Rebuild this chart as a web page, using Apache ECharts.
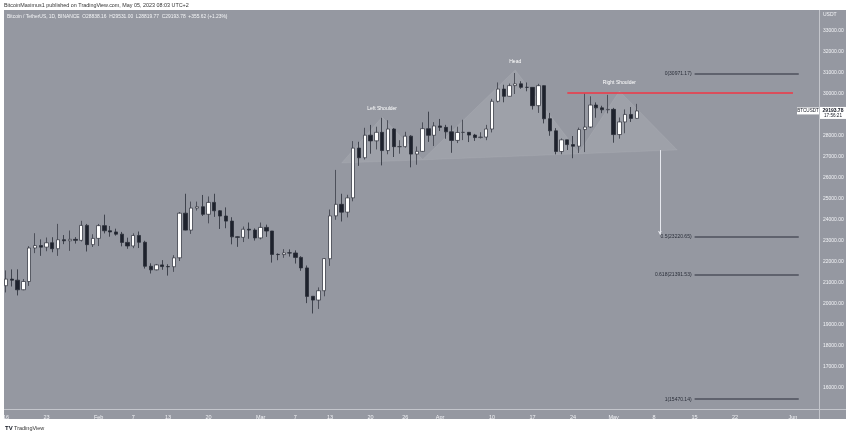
<!DOCTYPE html>
<html><head><meta charset="utf-8">
<script src="https://cdn.jsdelivr.net/npm/echarts/dist/echarts.min.js"></script>
<style>html,body{margin:0;padding:0;background:#fff}#c{width:850px;height:434px}</style>
</head><body><div id="c"></div>
<script>
// ---- data (BTC/USDT daily, Jan 16 – May 5 2023) ----
const startDate = '2023-01-16';
const open  = [20872,21185,21134,20678,21072,22667,22784,22707,22917,22633,23061,23010,23079,23031,23744,22827,
  23125,23732,23488,23431,23326,22933,22763,23264,22939,21797,21626,21862,21783,21774,22200,24324,23519,24569,24631,24272,24838,24439,24189,23947,23198,23174,23561,23522,
  23147,23647,23476,22362,22354,22436,22429,22219,21718,20367,20187,20632,22156,24197,24746,24373,25055,27424,26965,28038,27768,28175,27307,28333,27493,27494,27994,27140,27268,28348,28033,
  28478,28411,28199,27790,28169,28175,28044,27926,27948,28333,29653,30235,29892,30400,30485,30318,30316,29445,30397,28823,28245,27262,27817,27591,27514,28307,28428,29474,29340,29248,
  29268,28068,28669,29026,28838.16];
const high  = [21601,21647,21650,21191,22755,23372,23078,23167,23180,23816,23282,23500,23185,23962,23812,23320,
  23812,24255,23715,23587,23433,23158,23366,23452,23011,21938,21906,22090,21894,22324,24380,25250,24878,24877,25192,25121,25250,24476,24600,24133,23219,23689,23880,23600,
  23880,23780,23479,22410,22613,22602,22555,22275,21834,20367,20792,22185,24500,26386,25250,25200,27756,27725,28390,28528,28442,28868,28752,28375,27800,28200,28037,27500,28650,29159,28660,
  28812,28531,28500,28444,28775,28190,28100,28179,28530,29770,30550,30440,30500,31000,30610,30549,30320,30485,30412,29100,28374,27882,27820,28000,28400,30020,29890,29600,29440,29960,
  29339,28880,29266,29379,29531.00];
const low   = [20550,20834,20407,20656,20862,22422,22293,22513,22464,22292,22850,22530,22878,22976,22500,22714,
  22760,23363,23204,23255,22745,22628,22659,22665,21688,21451,21599,21630,21352,21530,22047,23505,23338,24450,24192,23840,24148,23574,23608,22841,22722,22950,23106,23020,
  23078,23195,21971,22086,22198,22258,21927,21580,20042,19549,19765,20367,21814,24011,23930,24123,24890,26578,26880,27156,27360,26601,27130,27000,27156,27445,26508,26631,27240,27720,27525,
  28240,27869,27200,27661,27805,27711,27766,27883,27800,28170,29600,29605,29878,30000,30250,30130,29260,29100,28600,28010,27126,27130,27333,26942,27190,27235,28380,28870,29088,29080,
  27680,27873,28130,28670,28819.77];
const close = [21185,21134,20678,21072,22667,22784,22707,22917,22633,23060,23010,23079,23031,23744,22827,23125,
  23732,23488,23431,23326,22933,22763,23264,22939,21797,21626,21862,21783,21774,22200,24324,23519,24569,24631,24271,24838,24439,24189,23947,23198,23175,23561,23522,23147,
  23647,23475,22362,22354,22435,22429,22219,21719,20363,20187,20633,22163,24197,24746,24375,25055,27423,26965,28038,27767,28175,27307,28333,27493,27494,27994,27139,27268,28348,28033,28478,
  28411,28199,27790,28169,28175,28044,27926,27948,28333,29653,30235,29892,30399,30485,30318,30316,29445,30397,28822,28245,27263,27817,27591,27514,28307,28428,29473,29340,29248,29268,
  28069,28669,29027,28838,29193.78];

// axis
const priceMin = 15000, priceMax = 34000, priceStep = 1000;
const hiddenPriceTicks = [15000, 29000, 34000];
const tickDates  = ['2023-01-16','2023-01-23','2023-02-01','2023-02-07','2023-02-13','2023-02-20','2023-03-01','2023-03-07','2023-03-13','2023-03-20','2023-03-26','2023-04-01','2023-04-10','2023-04-17','2023-04-24','2023-05-01','2023-05-08','2023-05-15','2023-05-22','2023-06-01'];
const tickTexts  = ['16','23','Feb','7','13','20','Mar','7','13','20','26','Apr','10','17','24','May','8','15','22','Jun'];

// annotations
const fibLevels = [0, 0.5, 0.618, 1];
const fibPrices = [30971.17, 23220.65, 21391.53, 15470.14];
const fibStart = '2023-05-15', fibEnd = '2023-06-02';
const resistancePrice = 30024, resStart = '2023-04-23', resEnd = '2023-06-01';
const targetDate = '2023-05-09', targetFrom = 27330, targetTo = 23300;
const hsDates  = ['2023-03-15','2023-03-22','2023-03-29','2023-04-14','2023-04-25','2023-05-02','2023-05-12'];
const hsValues = [26714, 28905, 26880, 31143, 27200, 30143, 27333];
const hsLabels = [null,'Left Shoulder',null,'Head',null,'Right Shoulder',null];

// ---- build categories ----
const cats = [];
{ const d = new Date(startDate + 'T00:00:00Z');
  for (let i = 0; i < 141; i++) { cats.push(d.toISOString().slice(0,10)); d.setUTCDate(d.getUTCDate()+1); } }
const tickMap = {}; tickDates.forEach((d,i)=>tickMap[d]=tickTexts[i]);
const candles = open.map((o,i)=>[o, close[i], low[i], high[i]]);
const idx = d => cats.indexOf(d);
const FONT = 'Liberation Sans, Arial, sans-serif';

const fibStyle = {color:'#4e515c', width:1.5, type:'solid'};
const fibLines = fibLevels.map((lv,i)=>[
  {coord:[idx(fibStart), fibPrices[i]],
   label:{show:true, position:'start', distance:3, color:'#2a2e39', fontSize:5, fontFamily:FONT, formatter: lv + '(' + fibPrices[i].toFixed(2) + ')'}},
  {coord:[idx(fibEnd), fibPrices[i]]}
]);

const chart = echarts.init(document.getElementById('c'), null, {renderer:'canvas'});
const baseGraphic = [
  {id:'bg', type:'rect', z:-10, shape:{x:4,y:10,width:842,height:409}, style:{fill:'#9598a1'}},
  {id:'hl', type:'line', z:-9, shape:{x1:4,y1:409.5,x2:846,y2:409.5}, style:{stroke:'#c3c5cb', lineWidth:1}},
  {id:'vl', type:'line', z:-9, shape:{x1:819.5,y1:10,x2:819.5,y2:419}, style:{stroke:'#c3c5cb', lineWidth:1}},
  {id:'hdr', type:'text', z:50, x:4, y:6, style:{text:'BitcoinMaximus1 published on TradingView.com, May 05, 2023 08:03 UTC+2', fill:'#333', font:'5.4px '+FONT, textVerticalAlign:'middle'}},
  {id:'leg', type:'text', z:50, x:7, y:17, style:{text:'Bitcoin / TetherUS, 1D, BINANCE  O28838.16  H29531.00  L28819.77  C29193.78  +355.62 (+1.23%)', fill:'#f4f5f7', font:'4.9px '+FONT, textVerticalAlign:'middle'}},
  {id:'usdt', type:'text', z:50, x:823, y:15, style:{text:'USDT', fill:'#f2f3f6', font:'5px '+FONT, textVerticalAlign:'middle'}},
  {id:'tv1', type:'text', z:50, x:5, y:428, style:{text:'TV', fill:'#131722', font:'bold 6px '+FONT, textVerticalAlign:'middle'}},
  {id:'tv2', type:'text', z:50, x:14, y:428, style:{text:'TradingView', fill:'#333', font:'5.5px '+FONT, textVerticalAlign:'middle'}}
];
const empty = cats.map(()=> '-');
chart.setOption({
  animation:false,
  backgroundColor:'#ffffff',
  grid:{left:0, right:31, top:10, bottom:25},
  xAxis:{type:'category', data:cats, boundaryGap:true,
    axisLine:{show:false}, axisTick:{show:false}, splitLine:{show:false},
    axisLabel:{interval:0, hideOverlap:false, margin:5, color:'#f2f3f6', fontSize:5.5, fontFamily:FONT,
      formatter: v => tickMap[v] || ''}},
  yAxis:{type:'value', position:'right', min:priceMin, max:priceMax, interval:priceStep, scale:true,
    axisLine:{show:false}, axisTick:{show:false}, splitLine:{show:false},
    axisLabel:{margin:4, color:'#f2f3f6', fontSize:5, fontFamily:FONT,
      formatter: v => hiddenPriceTicks.includes(v) ? '' : v.toFixed(2)}},
  graphic: baseGraphic,
  series:[
    {type:'custom', z:1, silent:true, clip:false, data:[[0, 20000]],
      renderItem:function(params, api){
        const pts = hsDates.map((d,i)=>api.coord([idx(d), hsValues[i]]));
        const children = [{type:'polygon', shape:{points:pts}, style:{fill:'rgba(255,255,255,0.09)', stroke:'rgba(255,255,255,0.12)', lineWidth:0.5}}];
        hsLabels.forEach((t,i)=>{ if(t) children.push({type:'text', style:{text:t, x:pts[i][0], y:pts[i][1]-8, fill:'#ffffff', font:'5px '+FONT, textAlign:'center', textVerticalAlign:'middle'}}); });
        return {type:'group', children};
      }},
    {type:'candlestick', z:2, data:candles, barWidth:3.8,
      itemStyle:{color:'#ffffff', color0:'#1e222d', borderColor:'#3b3e48', borderColor0:'#2a2d37', borderWidth:0.8}},
    {type:'line', name:'fib', z:3, data:empty, symbol:'none', lineStyle:{opacity:0}, color:'#4e515c',
      markLine:{silent:true, symbol:['none','none'], animation:false, lineStyle:fibStyle, data:fibLines}},
    {type:'custom', name:'res', z:3, silent:true, clip:false, data:[[idx(resStart), resistancePrice, idx(resEnd)]],
      renderItem:function(params, api){
        const a = api.coord([api.value(0), api.value(1)]);
        const b = api.coord([api.value(2), api.value(1)]);
        const y = Math.round(a[1]);
        return {type:'rect', shape:{x:a[0], y:y-0.75, width:b[0]-a[0], height:1.5}, style:{fill:'#f23645', stroke:null}};
      }},
    {type:'line', name:'target', z:3, data:empty, symbol:'none', lineStyle:{opacity:0}, color:'#e6e8ee',
      markLine:{silent:true, symbol:['none','arrow'], symbolSize:[3,4], animation:false, label:{show:false},
        lineStyle:{color:'#e6e8ee', width:1, type:'solid'},
        data:[[{coord:[idx(targetDate), targetFrom]}, {coord:[idx(targetDate), targetTo]}]]}}
  ]
});

// last price tags
const lastClose = close[close.length-1];
const py = chart.convertToPixel({yAxisIndex:0}, lastClose);
chart.setOption({graphic: baseGraphic.concat([
  {id:'t1', type:'rect', z:60, shape:{x:797,y:py-3.5,width:22,height:7}, style:{fill:'#ffffff'}},
  {id:'t2', type:'text', z:61, x:808, y:py, style:{text:'BTCUSDT', fill:'#131722', font:'4.6px '+FONT, textAlign:'center', textVerticalAlign:'middle'}},
  {id:'t3', type:'rect', z:60, shape:{x:820,y:py-4,width:26,height:12}, style:{fill:'#ffffff'}},
  {id:'t4', type:'text', z:61, x:833, y:py-0.5, style:{text:lastClose.toFixed(2), fill:'#131722', font:'bold 5px '+FONT, textAlign:'center', textVerticalAlign:'middle'}},
  {id:'t5', type:'text', z:61, x:833, y:py+5, style:{text:'17:56:21', fill:'#131722', font:'4.6px '+FONT, textAlign:'center', textVerticalAlign:'middle'}}
])});
</script></body></html>
